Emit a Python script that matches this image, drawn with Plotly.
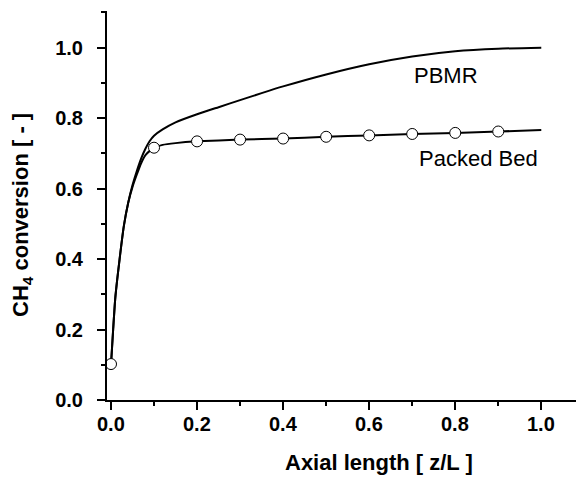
import plotly.graph_objects as go

# PBMR curve (z/L, conversion)
pbmr_x = [0, 0.005, 0.01, 0.02, 0.03, 0.04, 0.05, 0.06, 0.07, 0.08, 0.09, 0.1,
          0.12, 0.15, 0.2, 0.25, 0.3, 0.35, 0.4, 0.5, 0.6, 0.7, 0.8, 0.9, 1.0]
pbmr_y = [0.10, 0.20, 0.29, 0.40, 0.495, 0.56, 0.61, 0.65, 0.685, 0.713, 0.735, 0.75,
          0.768, 0.788, 0.811, 0.831, 0.851, 0.871, 0.89, 0.924, 0.953, 0.975, 0.99, 0.997, 1.0]

# Packed bed curve
pb_x = [0, 0.005, 0.01, 0.02, 0.03, 0.04, 0.05, 0.06, 0.07, 0.08, 0.09, 0.1,
        0.12, 0.15, 0.2, 0.3, 0.4, 0.5, 0.6, 0.7, 0.8, 0.9, 1.0]
pb_y = [0.10, 0.20, 0.29, 0.40, 0.495, 0.56, 0.605, 0.64, 0.672, 0.695, 0.707, 0.716,
        0.724, 0.729, 0.734, 0.739, 0.742, 0.747, 0.751, 0.755, 0.758, 0.762, 0.766]

# Packed bed markers
pbm_x = [0.0, 0.1, 0.2, 0.3, 0.4, 0.5, 0.6, 0.7, 0.8, 0.9]
pbm_y = [0.102, 0.716, 0.734, 0.739, 0.742, 0.747, 0.751, 0.755, 0.758, 0.762]

x_ticks = [0.0, 0.2, 0.4, 0.6, 0.8, 1.0]
y_ticks = [0.0, 0.2, 0.4, 0.6, 0.8, 1.0]

FONT = "Arial, Liberation Sans, sans-serif"

fig = go.Figure()
fig.add_trace(go.Scatter(x=pbmr_x, y=pbmr_y, mode="lines",
                         line=dict(color="black", width=2, shape="spline", smoothing=0.5),
                         showlegend=False))
fig.add_trace(go.Scatter(x=pb_x, y=pb_y, mode="lines",
                         line=dict(color="black", width=2, shape="spline", smoothing=0.5),
                         showlegend=False))
fig.add_trace(go.Scatter(x=pbm_x, y=pbm_y, mode="markers",
                         marker=dict(symbol="circle", size=11, color="white",
                                     line=dict(color="black", width=1)),
                         showlegend=False, cliponaxis=False))

annotations = [
    dict(text="<b>Axial length [ z/L ]</b>", xref="paper", yref="paper",
         x=(379 - 107) / 469, y=(400 - 462) / 389, xanchor="center", yanchor="middle",
         showarrow=False, font=dict(size=22, family=FONT)),
    dict(text="<b>CH<sub>4</sub> conversion [ - ]</b>", xref="paper", yref="paper",
         x=(22 - 107) / 469, y=(400 - 215) / 389, xanchor="center", yanchor="middle",
         textangle=-90, showarrow=False, font=dict(size=22, family=FONT)),
    dict(text="PBMR", xref="x", yref="y", x=(446 - 110.7) / 430.3, y=(400 - 75) / 353.3,
         xanchor="center", yanchor="middle", showarrow=False, font=dict(size=22, family=FONT)),
    dict(text="Packed Bed", xref="x", yref="y", x=(478.5 - 110.7) / 430.3,
         y=(400 - 157.5) / 353.3, xanchor="center", yanchor="middle", showarrow=False,
         font=dict(size=22, family=FONT)),
]
# x tick labels, placed at the tick values on the x axis
for v in x_ticks:
    annotations.append(dict(text=f"<b>{v:.1f}</b>", xref="x", yref="paper", x=v,
                            y=(400 - 423.5) / 389, xanchor="center", yanchor="middle",
                            showarrow=False, font=dict(size=20, family=FONT)))

fig.update_layout(
    width=576, height=477,
    margin=dict(l=107, r=0, t=11, b=77),
    paper_bgcolor="white", plot_bgcolor="white",
    font=dict(family=FONT, color="black"),
    xaxis=dict(range=[-0.0093, 1.0807], showline=True, linecolor="black", linewidth=2,
               showgrid=False, zeroline=False, ticks="outside", ticklen=8, tickwidth=2,
               tickcolor="black", tickvals=x_ticks, showticklabels=False,
               minor=dict(ticks="outside", ticklen=4, tickwidth=2, tickcolor="black",
                          tickvals=[0.1, 0.3, 0.5, 0.7, 0.9])),
    yaxis=dict(range=[0, 1.104], showline=True, linecolor="black", linewidth=2,
               showgrid=False, zeroline=False, ticks="outside", ticklen=8, tickwidth=2,
               tickcolor="black", tickvals=y_ticks, ticktext=[f"{v:.1f}" for v in y_ticks],
               tickfont=dict(size=20, family=FONT, weight="bold"),
               ticklabelstandoff=10,
               minor=dict(ticks="outside", ticklen=4, tickwidth=2, tickcolor="black",
                          tickvals=[0.1, 0.3, 0.5, 0.7, 0.9, 1.1])),
    annotations=annotations,
)

fig.write_html("out.html")
